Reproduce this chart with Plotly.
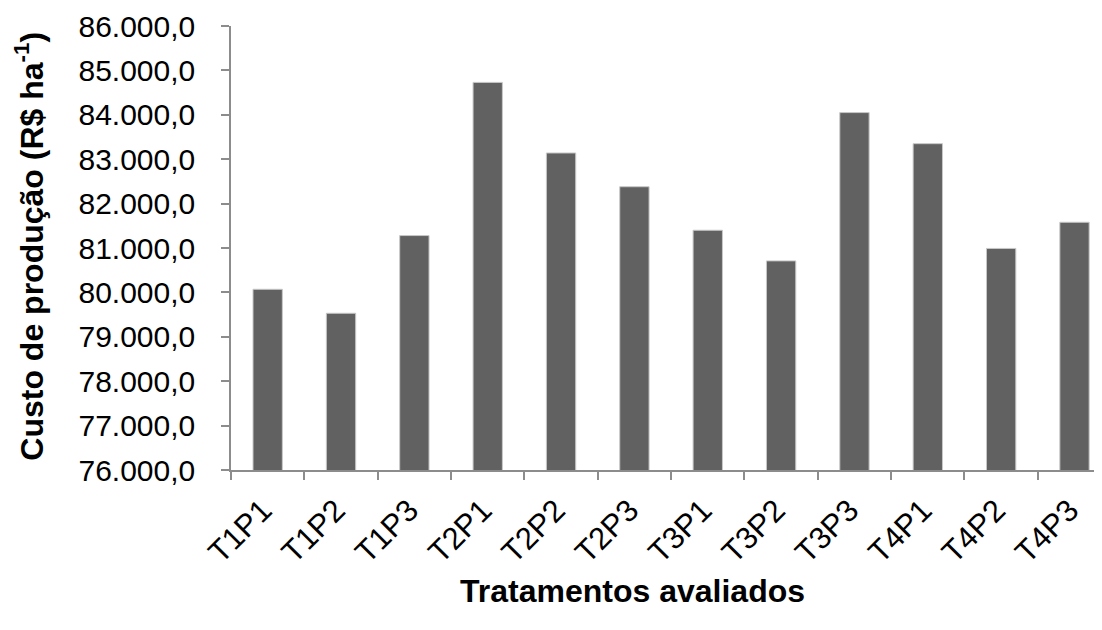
import plotly.graph_objects as go

categories = ["T1P1", "T1P2", "T1P3", "T2P1", "T2P2", "T2P3",
              "T3P1", "T3P2", "T3P3", "T4P1", "T4P2", "T4P3"]
custo = [80070, 79530, 81280, 84730, 83140, 82380,
         81400, 80710, 84050, 83350, 80990, 81580]
y_ticks = [76000, 77000, 78000, 79000, 80000, 81000, 82000, 83000, 84000, 85000, 86000]

FONT = "Liberation Sans, Arial, sans-serif"
AXIS_COLOR = "#8c8c8c"

fig = go.Figure()
fig.add_trace(go.Bar(
    x=categories, y=custo, base=0,
    marker=dict(color="#616161", line=dict(color="#c8c8c8", width=1)),
    width=0.4,
))

fig.update_layout(
    width=1102, height=630,
    margin=dict(l=223, r=0, t=18, b=168, autoexpand=False),
    paper_bgcolor="white", plot_bgcolor="white",
    separators=",.",
    showlegend=False,
    font=dict(family=FONT, color="black", size=30),
    xaxis=dict(
        type="category",
        range=[-0.5, 11.484],
        tickangle=-45,
        tickfont=dict(size=31),
        ticks="outside", ticklen=8, tickcolor=AXIS_COLOR, tickwidth=1.5,
        tickson="boundaries",
        showline=True, linecolor=AXIS_COLOR, linewidth=1.5,
        showgrid=False, zeroline=False,
        ticklabelstandoff=8,
        ticklabelshift=-5,
        automargin=False,
    ),
    yaxis=dict(
        range=[76000, 86000],
        tickvals=y_ticks,
        tickformat=",.1f",
        tickfont=dict(size=30),
        ticks="outside", ticklen=8, tickcolor=AXIS_COLOR, tickwidth=1.5,
        showline=True, linecolor=AXIS_COLOR, linewidth=1.5,
        showgrid=False, zeroline=False,
        ticklabelstandoff=20,
        automargin=False,
    ),
    annotations=[
        dict(text="<b>Custo de produção (R$ ha<sup>-1</sup>)</b>",
             xref="paper", yref="paper", x=-0.2298, y=0.503,
             textangle=-90, showarrow=False, font=dict(size=32, family=FONT),
             xanchor="center", yanchor="middle"),
        dict(text="<b>Tratamentos avaliados</b>",
             xref="paper", yref="paper", x=0.4573, y=-0.2725,
             showarrow=False, font=dict(size=32, family=FONT),
             xanchor="center", yanchor="middle"),
    ],
)

fig.write_html("out.html")
